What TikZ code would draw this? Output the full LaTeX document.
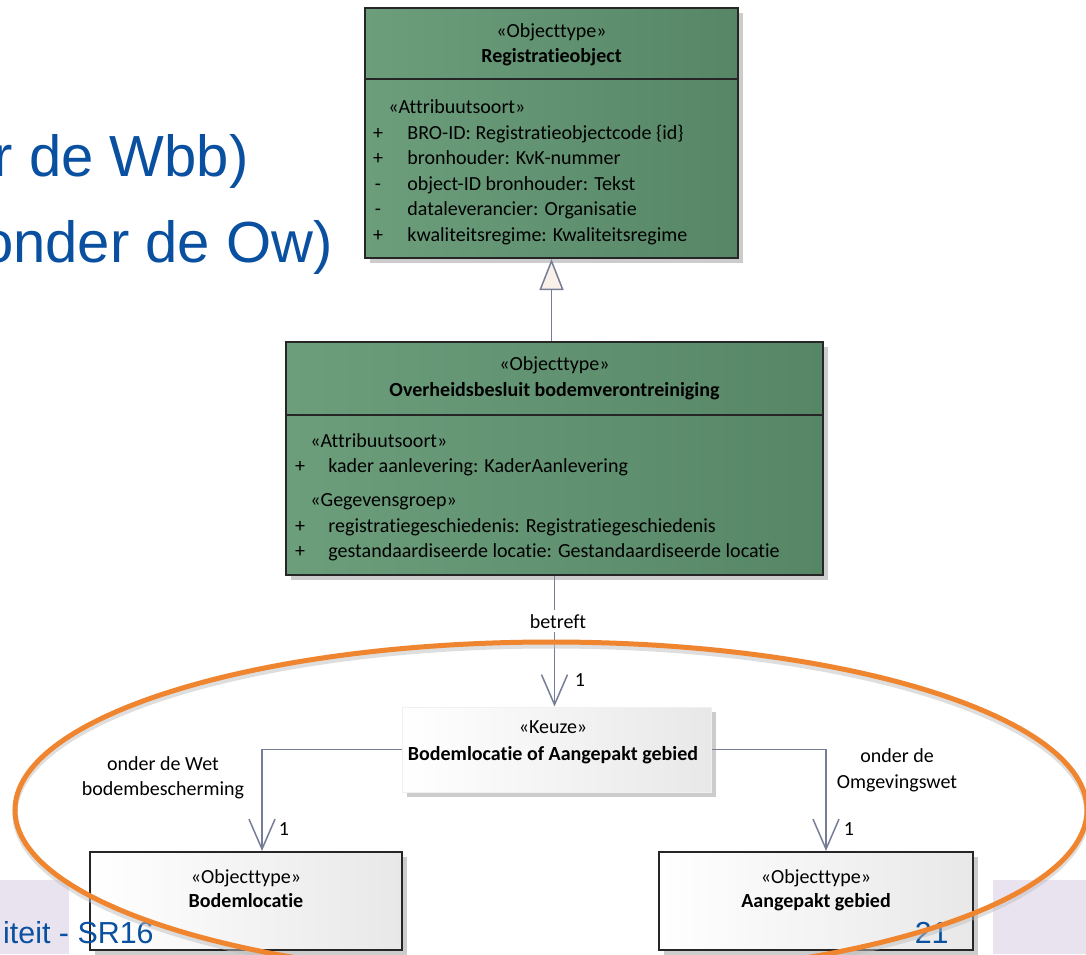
\documentclass[tikz,border=0pt]{standalone}
\usepackage{fontspec}
\newfontfamily\umlfont[Ligatures=NoCommon]{Carlito}
\newfontfamily\slidefont{Liberation Sans}
\usepackage{tikz}
\usepackage{xcolor}
\usetikzlibrary{arrows.meta,shadows}

\definecolor{clsL}{RGB}{108,158,124}
\definecolor{clsR}{RGB}{86,134,102}
\definecolor{boxR}{RGB}{232,232,232}
\definecolor{linecol}{RGB}{118,126,150}
\definecolor{trifill}{RGB}{250,240,234}
\definecolor{slideblue}{RGB}{10,80,160}
\definecolor{lavender}{RGB}{233,227,240}
\definecolor{ovalorange}{RGB}{240,133,48}

\begin{document}
\begin{tikzpicture}[x=0.5pt, y=-0.5pt,
  every node/.style={inner sep=0pt, font=\umlfont\fontsize{10}{12}\selectfont},
  boxshadow/.style={drop shadow={shadow xshift=2.5pt, shadow yshift=-2.5pt, fill=black!20, opacity=1}},
  greenbox/.style={draw=black!85, line width=1pt, left color=clsL, right color=clsR, boxshadow},
  greybox/.style={draw=black!85, line width=1pt, left color=white, right color=boxR, boxshadow},
  choicebox/.style={draw=black!6, line width=0.5pt, left color=white, right color=boxR, boxshadow},
  txt/.style={anchor=base},
  ltxt/.style={anchor=base west},
  bold/.style={anchor=base, font=\umlfont\fontsize{10}{12}\selectfont\bfseries},
  assoc/.style={draw=linecol, line width=0.75pt, -{Straight Barb[length=15pt,width=13pt]}},
  gen/.style={draw=linecol, line width=0.75pt, -{Triangle[length=15.5pt,width=12pt,fill=trifill]}},
  slide/.style={anchor=base east, text=slideblue, font=\slidefont\fontsize{29}{34}\selectfont},
  footer/.style={anchor=base east, text=slideblue, font=\slidefont\fontsize{15.2}{18}\selectfont}
]

\path[use as bounding box, fill=white] (0,0) rectangle (1086,954);

% Slide background
\fill[lavender] (0,880) rectangle (69,954);
\fill[lavender] (993,880) rectangle (1086,954);
\node[slide] (wbb) at (249,176) {r de Wbb)};
\node[slide] (ow) at (333,262) {onder de Ow)};

% Registratieobject
\node[greenbox, minimum width=186.5pt, minimum height=125pt] (reg) at (551.5,133) {};
\draw[line width=1pt, black!85] (reg.west |- 0,79) -- (reg.east |- 0,79);
\node[txt] (regst) at (551.5,37) {«Objecttype»};
\node[bold] (regnm) at (551.5,62) {Registratieobject};
\node[ltxt] (regat) at (388,113) {«Attribuutsoort»};
\node[txt] (regv1) at (378,139) {+};
\node[txt] (regv2) at (378,164.5) {+};
\node[txt] (regv3) at (378,190) {-};
\node[txt] (regv4) at (378,215.5) {-};
\node[txt] (regv5) at (378,241) {+};
\node[ltxt] (rega1) at (407,139) {BRO-ID: Registratieobjectcode \{id\}};
\node[ltxt] (rega2) at (407,164.5) {bronhouder: KvK-nummer};
\node[ltxt] (rega3) at (407,190) {object-ID bronhouder: Tekst};
\node[ltxt] (rega4) at (407,215.5) {dataleverancier: Organisatie};
\node[ltxt] (rega5) at (407,241) {kwaliteitsregime: Kwaliteitsregime};

% Overheidsbesluit bodemverontreiniging
\node[greenbox, minimum width=268.5pt, minimum height=116.5pt] (obs) at (554.5,458.5) {};
\draw[line width=1pt, black!85] (obs.west |- 0,415) -- (obs.east |- 0,415);
\node[txt] (obsst) at (554.5,370) {«Objecttype»};
\node[bold] (obsnm) at (554.5,396) {Overheidsbesluit bodemverontreiniging};
\node[ltxt] (obsat) at (310,447) {«Attribuutsoort»};
\node[txt] (obsv1) at (300,472) {+};
\node[ltxt] (obsa1) at (328,472) {kader aanlevering: KaderAanlevering};
\node[ltxt] (obsgg) at (310,506) {«Gegevensgroep»};
\node[txt] (obsv2) at (300,532) {+};
\node[txt] (obsv3) at (300,557) {+};
\node[ltxt] (obsa2) at (328,532) {registratiegeschiedenis: Registratiegeschiedenis};
\node[ltxt] (obsa3) at (328,557) {gestandaardiseerde locatie: Gestandaardiseerde locatie};

% Keuze
\node[choicebox, minimum width=154.5pt, minimum height=42.5pt] (keuze) at (556.5,749.5) {};
\node[txt] (keuzest) at (553,733) {«Keuze»};
\node[bold] (keuzenm) at (553,760) {Bodemlocatie of Aangepakt gebied};

% Bodemlocatie and Aangepakt gebied
\node[greybox, minimum width=156pt, minimum height=49pt] (bodem) at (246,901) {};
\node[txt] (bodemst) at (246,883) {«Objecttype»};
\node[bold] (bodemnm) at (246,907) {Bodemlocatie};
\node[greybox, minimum width=157pt, minimum height=49pt] (aang) at (816,901) {};
\node[txt] (aangst) at (816,883) {«Objecttype»};
\node[bold] (aangnm) at (816,907) {Aangepakt gebied};

% Connectors
\draw[gen] (reg.south |- obs.north) -- (reg.south);
\draw[assoc] (obs.south) -- (obs.south |- keuze.north);
\node[txt, fill=white, inner sep=2pt] (betreft) at (558,628) {betreft};
\node[txt] (mult1) at (580,686) {1};
\draw[assoc] (keuze.west) -| ([xshift=8pt]bodem.north);
\node[txt] (wet1) at (163,770) {onder de Wet};
\node[txt] (wet2) at (163,795) {bodembescherming};
\node[txt] (mult2) at (284,835) {1};
\draw[assoc] (keuze.east) -| ([xshift=5pt]aang.north);
\node[txt] (ow1) at (897,762) {onder de};
\node[txt] (ow2) at (897,788) {Omgevingswet};
\node[txt] (mult3) at (849,835) {1};

% Footer
\node[footer] (foot) at (154,943) {iteit - SR16};
\node[footer] (page) at (949,943) {21};

% Oval
\draw[black!25, line width=2.5pt, opacity=0.5] (551,814) ellipse [x radius=268pt, y radius=84pt];
\draw[ovalorange, line width=2.5pt] (551,810) ellipse [x radius=268pt, y radius=84pt];

\end{tikzpicture}
\end{document}
